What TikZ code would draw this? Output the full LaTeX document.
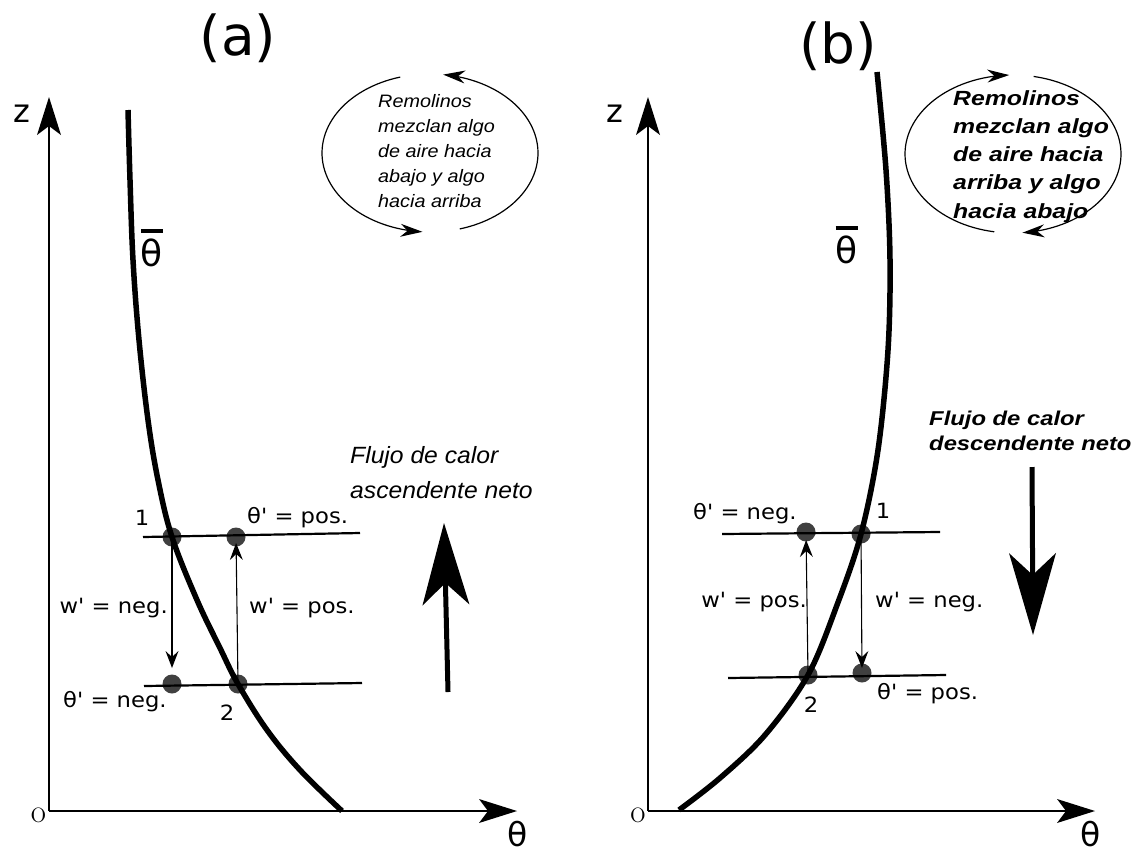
\documentclass[tikz,border=0pt]{standalone}
\usepackage{fontspec}
\usepackage{graphicx}
\newfontfamily\dv{DejaVu Sans}
\newfontfamily\lib{Liberation Sans}
\usetikzlibrary{arrows.meta}
\newcommand{\hsc}[2]{\scalebox{#1}[1]{#2}}
\newcommand{\sq}{\XeTeXglyph\XeTeXcharglyph"0027\relax}
\begin{document}
\begin{tikzpicture}[x=1pt,y=-1pt,
  axis/.style={line width=2pt,-{Stealth[length=38pt,width=24pt,inset=9pt,line width=0pt]}},
  prof/.style={line width=5.5pt},
  lev/.style={line width=2.2pt},
  dot/.style={circle,fill=black!75,inner sep=0pt,minimum size=19pt},
  warr/.style={line width=1.1pt,-{Stealth[length=17pt,width=13pt,inset=6pt,line width=0pt]}},
  eddy/.style={line width=1.2pt,-{Stealth[length=22pt,width=13pt,inset=7pt,line width=0pt]}},
  big/.style={line width=5pt,-{Stealth[length=82pt,width=47pt,inset=22pt,line width=0pt]}},
  lbl/.style={inner sep=0pt,font=\dv\fontsize{21}{25}\selectfont},
  ttl/.style={inner sep=0pt,font=\dv\fontsize{55}{60}\selectfont},
  axl/.style={inner sep=0pt,font=\dv\fontsize{32}{34}\selectfont},
  thl/.style={inner sep=0pt,font=\dv\fontsize{33}{34}\selectfont},
  orl/.style={inner sep=0pt,font=\fontsize{33}{36}\selectfont},
  tbar/.style={inner sep=0pt,font=\dv\fontsize{36}{40}\selectfont},
  eda/.style={inner sep=0pt,font=\lib\itshape\fontsize{18}{25}\selectfont},
  edb/.style={inner sep=0pt,font=\lib\bfseries\itshape\fontsize{20.5}{28.3}\selectfont},
  fla/.style={inner sep=0pt,font=\lib\itshape\fontsize{23.5}{35}\selectfont},
  flb/.style={inner sep=0pt,font=\lib\bfseries\itshape\fontsize{20}{25}\selectfont}
]
\path[use as bounding box] (0,0) rectangle (1139,852);

% ================= panel (a) =================
\node[ttl,anchor=base] (tita) at (238,55) {(a)};
\coordinate (Oa) at (49,811);
\coordinate (za) at (49,97);
\coordinate (ta) at (517,811);
\draw[axis] (Oa) -- (za);
\draw[axis] (Oa) -- (ta);
\node[axl,anchor=base] (zla) at (22,122) {z};
\node[thl,anchor=base] (tla) at (518,846) {θ};
\node[orl,anchor=base] (ola) at (38.5,822) {o};

\node[dot] (a1) at (172,537) {};
\node[dot] (a2) at (236,537) {};
\node[dot] (a3) at (172,684) {};
\node[dot] (a4) at (238,684) {};

\coordinate (la1) at (143,537); \coordinate (la2) at (360,533);
\coordinate (la3) at (144,686); \coordinate (la4) at (362,683);
\draw[lev] (la1) -- (la2);
\draw[lev] (la3) -- (la4);

\draw[prof] plot[smooth,tension=0.6] coordinates {(128,110) (130,180) (133,260) (139,340) (148,420) (158,480) (172,537) (197,600) (220,648) (238,684) (267,730) (300,770) (342,811)};
\node[tbar,anchor=base] (tba) at (152,266) {\makebox[0pt][l]{\hspace{0.5pt}\raisebox{33pt}{\rule{22pt}{4pt}}}θ};

\draw[warr,shorten >=16pt] (a1.center) -- (a3.center);
\draw[warr,shorten >=6pt] (a4.center) -- (a2.center);

\node[lbl,anchor=base] (n1a) at (142,525) {\hsc{1.08}{1}};
\node[lbl,anchor=base west] (tpa) at (247,523) {\hsc{1.08}{θ\sq{} = pos.}};
\node[lbl,anchor=base east] (wna) at (168,613) {\hsc{1.08}{w\sq{} = neg.}};
\node[lbl,anchor=base west] (wpa) at (249,613) {\hsc{1.08}{w\sq{} = pos.}};
\node[lbl,anchor=base west] (tna) at (63,707) {\hsc{1.08}{θ\sq{} = neg.}};
\node[lbl,anchor=base] (n2a) at (227,720) {\hsc{1.08}{2}};

\node[fla,anchor=base west] (fxa) at (350,463) {\hsc{1.05}{\begin{tabular}[t]{@{}l@{}}Flujo de calor\\ascendente neto\end{tabular}}};
\coordinate (bga1) at (448,692); \coordinate (bga2) at (444,523);
\draw[big] (bga1) -- (bga2);

\draw[eddy] plot[domain=254:94,samples=60] ({430+108*cos(\x)},{153+79*sin(\x)});
\draw[eddy] plot[domain=74:-83,samples=60] ({430+108*cos(\x)},{153+79*sin(\x)});
\node[eda,anchor=base west] (eta) at (378,107) {\hsc{1.1}{\begin{tabular}[t]{@{}l@{}}Remolinos\\mezclan algo\\de aire hacia\\abajo y algo\\hacia arriba\end{tabular}}};

% ================= panel (b) =================
\node[ttl,anchor=base] (titb) at (838,63) {(b)};
\coordinate (Ob) at (648,811);
\coordinate (zb) at (648,97);
\coordinate (tb) at (1095,811);
\draw[axis] (Ob) -- (zb);
\draw[axis] (Ob) -- (tb);
\node[axl,anchor=base] (zlb) at (615,122) {z};
\node[thl,anchor=base] (tlb) at (1091,846) {θ};
\node[orl,anchor=base] (olb) at (638,822) {o};

\node[dot] (b1) at (806,532) {};
\node[dot] (b2) at (861,534) {};
\node[dot] (b3) at (808,675) {};
\node[dot] (b4) at (862,673) {};

\coordinate (lb1) at (722,534); \coordinate (lb2) at (940,532);
\coordinate (lb3) at (728,678); \coordinate (lb4) at (946,675);
\draw[lev] (lb1) -- (lb2);
\draw[lev] (lb3) -- (lb4);

\draw[prof] plot[smooth,tension=0.55] coordinates {(679,810) (720,778) (765,735) (808,675) (837,605) (861,534) (878,450) (888,350) (890,260) (886,170) (877,72)};
\node[tbar,anchor=base] (tbb) at (846,263) {\makebox[0pt][l]{\hspace{0.5pt}\raisebox{33pt}{\rule{22pt}{4pt}}}θ};

\draw[warr,shorten >=8pt] (b3.center) -- (b1.center);
\draw[warr,shorten >=5pt] (b2.center) -- (b4.center);

\node[lbl,anchor=base west] (tnb) at (693,519) {\hsc{1.08}{θ\sq{} = neg.}};
\node[lbl,anchor=base] (n1b) at (883,518) {\hsc{1.08}{1}};
\node[lbl,anchor=base east] (wpb) at (807,607) {\hsc{1.08}{w\sq{} = pos.}};
\node[lbl,anchor=base west] (wnb) at (875,607) {\hsc{1.08}{w\sq{} = neg.}};
\node[lbl,anchor=base west] (tpb) at (877,699) {\hsc{1.08}{θ\sq{} = pos.}};
\node[lbl,anchor=base] (n2b) at (811,712) {\hsc{1.08}{2}};

\node[flb,anchor=base west] (fxb) at (929,425) {\hsc{1.19}{\begin{tabular}[t]{@{}l@{}}Flujo de calor\\descendente neto\end{tabular}}};
\coordinate (bgb1) at (1032,467); \coordinate (bgb2) at (1033,635);
\draw[big] (bgb1) -- (bgb2);

\draw[eddy] plot[domain=100:268,samples=60] ({1013+108*cos(\x)},{154+79*sin(\x)});
\draw[eddy] plot[domain=281:445,samples=60] ({1013+108*cos(\x)},{154+79*sin(\x)});
\node[edb,anchor=base west] (etb) at (953,105) {\hsc{1.21}{\begin{tabular}[t]{@{}l@{}}Remolinos\\mezclan algo\\de aire hacia\\arriba y algo\\hacia abajo\end{tabular}}};
\end{tikzpicture}
\end{document}
